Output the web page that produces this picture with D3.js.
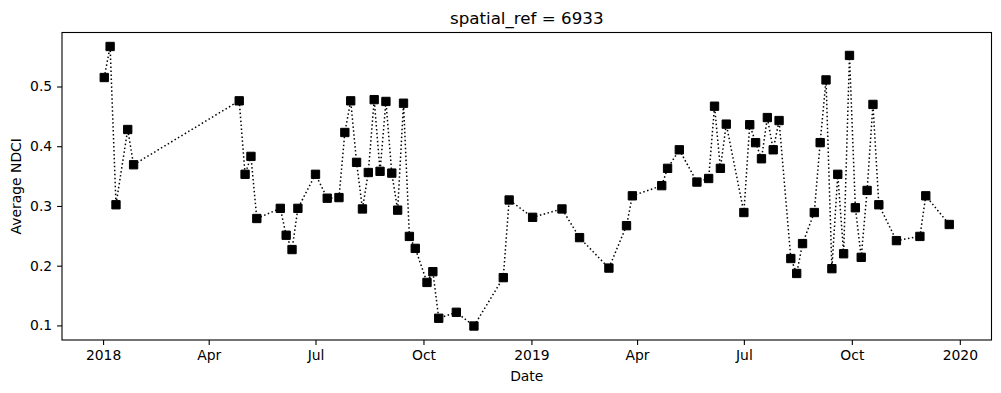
<!DOCTYPE html>
<html>
<head>
<meta charset="utf-8">
<script src="https://cdn.jsdelivr.net/npm/d3@7"></script>
<style>
  html, body { margin: 0; padding: 0; background: #fff; }
  svg { display: block; font-family: "DejaVu Sans", sans-serif; }
</style>
</head>
<body>
<svg id="chart" width="1001" height="393"></svg>
<script>
const dates = [
  "2018-01-02","2018-01-07","2018-01-12","2018-01-22","2018-01-27",
  "2018-04-27","2018-05-02","2018-05-07","2018-05-12",
  "2018-06-01","2018-06-06","2018-06-11","2018-06-16",
  "2018-07-01","2018-07-11","2018-07-21","2018-07-26","2018-07-31",
  "2018-08-05","2018-08-10","2018-08-15","2018-08-20","2018-08-25","2018-08-30",
  "2018-09-04","2018-09-09","2018-09-14","2018-09-19","2018-09-24",
  "2018-10-04","2018-10-09","2018-10-14","2018-10-29",
  "2018-11-13","2018-12-08","2018-12-13",
  "2019-01-02","2019-01-27","2019-02-11","2019-03-08","2019-03-23","2019-03-28",
  "2019-04-22","2019-04-27","2019-05-07","2019-05-22",
  "2019-06-01","2019-06-06","2019-06-11","2019-06-16",
  "2019-07-01","2019-07-06","2019-07-11","2019-07-16","2019-07-21","2019-07-26","2019-07-31",
  "2019-08-10","2019-08-15","2019-08-20","2019-08-30",
  "2019-09-04","2019-09-09","2019-09-14","2019-09-19","2019-09-24","2019-09-29",
  "2019-10-04","2019-10-09","2019-10-14","2019-10-19","2019-10-24",
  "2019-11-08","2019-11-28","2019-12-03","2019-12-23"
];
const ndci = [
  0.515, 0.567, 0.302, 0.428, 0.369,
  0.476, 0.353, 0.383, 0.279,
  0.296, 0.251, 0.227, 0.296,
  0.353, 0.313, 0.314, 0.423, 0.476,
  0.373, 0.295, 0.356, 0.478, 0.358, 0.475,
  0.355, 0.293, 0.472, 0.249, 0.229,
  0.172, 0.190, 0.112, 0.122,
  0.099, 0.180, 0.310,
  0.281, 0.295, 0.247, 0.196, 0.267, 0.317,
  0.334, 0.363, 0.394, 0.340,
  0.346, 0.467, 0.363, 0.437,
  0.289, 0.436, 0.406, 0.379, 0.448, 0.394, 0.443,
  0.212, 0.187, 0.237, 0.289,
  0.406, 0.511, 0.195, 0.353, 0.220, 0.552,
  0.297, 0.214, 0.326, 0.470, 0.302,
  0.242, 0.249, 0.317, 0.269
];
const yTicks = [0.1, 0.2, 0.3, 0.4, 0.5];
const xTickDates = ["2018-01-01","2018-04-01","2018-07-01","2018-10-01","2019-01-01","2019-04-01","2019-07-01","2019-10-01","2020-01-01"];
const titleText = "spatial_ref = 6933";
const xLabelText = "Date";
const yLabelText = "Average NDCI";

(function () {
const parse = d3.utcParse("%Y-%m-%d");
const data = dates.map((d, i) => ({ date: parse(d), value: ndci[i] }));

const mLeft = 62, mRight = 991.5, mTop = 32.5, mBottom = 340;

const tExt = d3.extent(data, d => +d.date);
const tPad = (tExt[1] - tExt[0]) * 0.05;
const x = d3.scaleUtc()
  .domain([new Date(tExt[0] - tPad), new Date(tExt[1] + tPad)])
  .range([mLeft, mRight]);

const vExt = d3.extent(data, d => d.value);
const vPad = (vExt[1] - vExt[0]) * 0.05;
const y = d3.scaleLinear()
  .domain([vExt[0] - vPad, vExt[1] + vPad])
  .range([mBottom, mTop]);

const svg = d3.select("#chart");

// line
const line = d3.line().x(d => x(d.date)).y(d => y(d.value));
svg.append("path")
  .datum(data)
  .attr("d", line)
  .attr("fill", "none")
  .attr("stroke", "#000")
  .attr("stroke-width", 1.5)
  .attr("stroke-dasharray", "1.5,2.475")
  .attr("stroke-linecap", "butt");

// markers
const ms = 8.33;
svg.append("g").selectAll("rect")
  .data(data)
  .join("rect")
  .attr("x", d => x(d.date) - ms / 2)
  .attr("y", d => y(d.value) - ms / 2)
  .attr("width", ms)
  .attr("height", ms)
  .attr("fill", "#000")
  .attr("stroke", "#000")
  .attr("stroke-width", 1)
  .attr("stroke-linejoin", "round");

// frame
svg.append("rect")
  .attr("x", mLeft).attr("y", mTop)
  .attr("width", mRight - mLeft).attr("height", mBottom - mTop)
  .attr("fill", "none").attr("stroke", "#000").attr("stroke-width", 1.1);

// axes
const fmt = d => d.getUTCMonth() === 0 ? d3.utcFormat("%Y")(d) : d3.utcFormat("%b")(d);
const xAxis = d3.axisBottom(x)
  .tickValues(xTickDates.map(parse))
  .tickFormat(fmt)
  .tickSize(4.9).tickPadding(4.9);
const gx = svg.append("g").attr("transform", `translate(0,${mBottom})`).call(xAxis);
gx.select(".domain").remove();
gx.selectAll("line").attr("stroke", "#000").attr("stroke-width", 1.1);
gx.selectAll("text").attr("fill", "#000").style("font-size", "13.9px").style("font-family", "DejaVu Sans");

const yAxis = d3.axisLeft(y)
  .tickValues(yTicks)
  .tickFormat(d3.format(".1f"))
  .tickSize(4.9).tickPadding(4.9);
const gy = svg.append("g").attr("transform", `translate(${mLeft},0)`).call(yAxis);
gy.select(".domain").remove();
gy.selectAll("line").attr("stroke", "#000").attr("stroke-width", 1.1);
gy.selectAll("text").attr("fill", "#000").style("font-size", "13.9px").style("font-family", "DejaVu Sans");

// labels
svg.append("text")
  .attr("x", (mLeft + mRight) / 2).attr("y", 24)
  .attr("text-anchor", "middle")
  .style("font-size", "16.7px")
  .text(titleText);

svg.append("text")
  .attr("x", (mLeft + mRight) / 2).attr("y", 381)
  .attr("text-anchor", "middle")
  .style("font-size", "13.9px")
  .text(xLabelText);

svg.append("text")
  .attr("transform", `translate(20.5,${(mTop + mBottom) / 2}) rotate(-90)`)
  .attr("text-anchor", "middle")
  .style("font-size", "13.9px")
  .text(yLabelText);
})();
</script>
</body>
</html>
